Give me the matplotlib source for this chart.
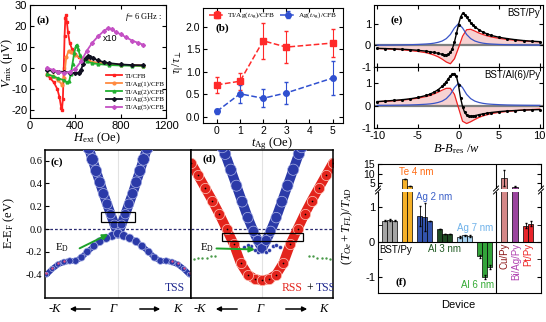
import numpy as np
import matplotlib
matplotlib.use("Agg")
import matplotlib.pyplot as plt
from matplotlib.lines import Line2D

# ---------------- data ----------------
# (a) V_mix vs H_ext
h_red = [150, 180, 210, 240, 260, 275, 282, 290, 298, 305, 312, 318, 325, 335, 350, 370, 400, 430, 470, 520, 600, 700, 800, 900, 1000]
v_red = [-3.5, -5, -7, -10, -14, -19, -20, -15, 0, 15, 24, 25, 22, 17, 12, 9, 6.5, 5, 4, 3, 2.2, 1.7, 1.4, 1.2, 1.0]
h_org = [150, 200, 250, 280, 300, 320, 340, 360, 400, 450, 500, 600, 800, 1000]
v_org = [-3, -4, -6, -8, -5, 5, 8, 7.5, 6, 4.5, 3.5, 2.3, 1.4, 1.0]
h_grn = [150, 200, 250, 300, 330, 345, 360, 375, 390, 405, 415, 425, 440, 460, 500, 550, 600, 700, 800, 900, 1000]
v_grn = [-3, -4, -5, -6, -7, -6.5, -3, 2, 7, 10.5, 11, 9, 6, 4, 3, 2.2, 1.8, 1.3, 1.1, 1.0, 0.9]
h_blk = [150, 200, 250, 300, 350, 400, 430, 450, 470, 490, 510, 530, 560, 600, 650, 700, 800, 900, 1000]
v_blk = [-1, -1.5, -1.8, -2, -2.3, -2.5, -2.3, -1, 2, 4.5, 5.5, 5.3, 4.5, 3.5, 2.7, 2.2, 1.6, 1.3, 1.2]
h_mag = [150, 200, 250, 300, 350, 400, 450, 500, 550, 600, 650, 690, 720, 760, 800, 850, 900, 950, 1000]
v_mag = [0, -1, -2, -2.5, -2, -0.5, 3, 8, 12, 15, 17.5, 19, 18.5, 17, 16, 14.5, 13, 12, 11]

# (b) ratio vs t_Ag
t_ag = [0, 1, 2, 3, 5]
r_red = [0.71, 0.79, 1.69, 1.55, 1.64]
e_red = [0.18, 0.19, 0.40, 0.36, 0.31]
r_blu = [0.12, 0.51, 0.41, 0.53, 0.86]
e_blu = [0.05, 0.20, 0.20, 0.25, 0.37]

# (c) TSS bands (right half, mirrored)
kc_up = [0.0, 0.05, 0.1, 0.15, 0.2, 0.25, 0.3, 0.35, 0.4]
ec_up = [-0.04, 0.04, 0.13, 0.22, 0.31, 0.41, 0.51, 0.61, 0.71]
kc_lo = [0.0, 0.08, 0.16, 0.25, 0.33, 0.42, 0.5, 0.58, 0.66, 0.74, 0.82, 0.9, 0.98]
ec_lo = [-0.04, -0.06, -0.08, -0.11, -0.15, -0.2, -0.25, -0.28, -0.28, -0.29, -0.31, -0.35, -0.4]

# (d) RSS + TSS bands
kd_blu = [0.0, 0.06, 0.12, 0.2, 0.28, 0.36, 0.44, 0.52, 0.56]
ed_blu = [-0.17, -0.1, -0.02, 0.1, 0.24, 0.38, 0.52, 0.66, 0.72]
kd_wing = [0.05, 0.1, 0.15, 0.2, 0.25]
ed_wing = [-0.2, -0.18, -0.15, -0.14, -0.16]
kd_red = [0.0, 0.1, 0.2, 0.3, 0.4, 0.5, 0.6, 0.7, 0.8, 0.9, 1.0]
ed_red = [-0.45, -0.44, -0.40, -0.30, -0.13, 0.0, 0.13, 0.25, 0.36, 0.47, 0.58]
kd_flat = [0.66, 0.72, 0.78, 0.84, 0.9, 0.96]
ed_flat = [-0.24, -0.24, -0.25, -0.25, -0.25, -0.26]

# (e) line shapes
xe = [-10, -9, -8, -7, -6, -5, -4, -3.5, -3, -2.5, -2, -1.5, -1, -0.5, 0, 0.5, 1, 1.5, 2, 2.5, 3, 3.5, 4, 5, 6, 7, 8, 9, 10]
sym = [0.01, 0.012, 0.015, 0.02, 0.027, 0.04, 0.06, 0.075, 0.1, 0.14, 0.2, 0.31, 0.5, 0.8, 1.0,
       0.8, 0.5, 0.31, 0.2, 0.14, 0.1, 0.075, 0.06, 0.04, 0.027, 0.02, 0.015, 0.012, 0.01]
asym_top = [-0.15, -0.16, -0.18, -0.2, -0.24, -0.28, -0.34, -0.39, -0.45, -0.53, -0.64, -0.77, -0.85, -0.62, -0.12,
            0.42, 0.72, 0.74, 0.66, 0.57, 0.5, 0.44, 0.39, 0.32, 0.27, 0.23, 0.2, 0.18, 0.16]
asym_bot = [0.17, 0.19, 0.21, 0.24, 0.28, 0.33, 0.4, 0.45, 0.52, 0.6, 0.69, 0.77, 0.77, 0.5, -0.1,
            -0.7, -0.8, -0.72, -0.62, -0.53, -0.46, -0.41, -0.36, -0.3, -0.26, -0.23, -0.2, -0.18, -0.16]
xb = [-10, -9, -8, -7, -6, -5, -4, -3.5, -3, -2.5, -2, -1.75, -1.5, -1.25, -1, -0.75, -0.5, -0.25, 0,
      0.25, 0.5, 0.75, 1, 1.25, 1.5, 1.75, 2, 2.5, 3, 3.5, 4, 5, 6, 7, 8, 9, 10]
meas_top = [-0.14, -0.15, -0.165, -0.18, -0.2, -0.23, -0.27, -0.3, -0.33, -0.37, -0.42, -0.44, -0.45, -0.42, -0.33,
            -0.15, 0.15, 0.55, 0.95, 1.3, 1.47, 1.42, 1.3, 1.17, 1.05, 0.95, 0.86, 0.72, 0.61, 0.53, 0.46,
            0.37, 0.31, 0.26, 0.22, 0.19, 0.17]
meas_bot = [0.18, 0.2, 0.23, 0.26, 0.3, 0.36, 0.45, 0.51, 0.6, 0.71, 0.86, 0.96, 1.07, 1.2, 1.32, 1.4, 1.43,
            1.3, 0.9, 0.35, -0.05, -0.3, -0.42, -0.47, -0.48, -0.47, -0.45, -0.41, -0.37, -0.34, -0.31,
            -0.27, -0.24, -0.22, -0.2, -0.19, -0.18]

# (f) torque ratios per device
grp_vals = [[0.62, 0.64, 0.62], [7.2, 3.6], [0.75, 0.72, 0.6], [0.38, 0.23, 0.23],
            [0.14, 0.19, 0.17], [-0.41, -1.0, -0.72]]
grp_errs = [[0.02, 0.02, 0.02], [0, 0], [0.3, 0.4, 0.0], [0, 0, 0], [0.02, 0.02, 0.02], [0.05, 0.06, 0.05]]
grp_cols = ['#a5a5a5', '#f6b127', '#3253ad', '#1d4a22', '#a9d3f2', '#33a43a']
ref_vals = [[7.7], [3.3], [0.47, 0.53]]
ref_errs = [[4.2], [0.15], [0.07, 0.07]]
ref_cols = ['#d48888', '#9b449e', '#e8242a']

# ---------------- layout ----------------
W, H = 546, 322
plt.rcParams['font.family'] = ['Liberation Sans', 'DejaVu Sans']
plt.rcParams['mathtext.fontset'] = 'custom'
plt.rcParams['mathtext.rm'] = 'Liberation Serif'
plt.rcParams['mathtext.it'] = 'Liberation Serif:italic'
plt.rcParams['mathtext.bf'] = 'Liberation Serif:bold'
plt.rcParams['axes.unicode_minus'] = False
plt.rcParams['xtick.direction'] = 'in'
plt.rcParams['ytick.direction'] = 'in'
plt.rcParams['axes.linewidth'] = 0.8
plt.rcParams['xtick.major.size'] = 3
plt.rcParams['ytick.major.size'] = 3
plt.rcParams['xtick.major.pad'] = 2.5
plt.rcParams['ytick.major.pad'] = 2
SERIF = ['Liberation Serif', 'DejaVu Serif']

fig = plt.figure(figsize=(W / 100, H / 100), dpi=100)


def box(l, t, r, b):
    return [l / W, 1 - b / H, (r - l) / W, (b - t) / H]


def ftxt(x, y, s, **kw):
    kw.setdefault('ha', 'center')
    kw.setdefault('va', 'center')
    return fig.text(x / W, 1 - y / H, s, **kw)


def farrow(x0, x1, y):
    fig.add_artist(matplotlib.patches.FancyArrowPatch(
        (x0 / W, 1 - y / H), (x1 / W, 1 - y / H), transform=fig.transFigure,
        arrowstyle='-|>', mutation_scale=7, lw=1.1, color='black'))


# ---------------- (a) ----------------
axa = fig.add_axes(box(30, 5, 166, 118))
axa.plot(h_red, v_red, '-s', color='#ff2020', ms=2, lw=1.3, label='TI/CFB')
axa.plot(h_org, v_org, '-o', color='#ff8a40', ms=2, lw=1.3, label='TI/Ag(1)/CFB')
axa.plot(h_grn, v_grn, '-^', color='#20b030', ms=2, lw=1.3, label='TI/Ag(2)/CFB')
axa.plot(h_blk, v_blk, '-D', color='#101020', ms=2, lw=1.3, label='TI/Ag(3)/CFB')
axa.plot(h_mag, v_mag, '-D', color='#c450c4', ms=2, lw=1.3, label='TI/Ag(5)/CFB')
axa.set_xlim(0, 1200)
axa.set_ylim(-24, 30)
axa.set_xticks([0, 400, 800, 1200])
axa.set_yticks([-20, -10, 0, 10, 20, 30])
axa.tick_params(labelsize=8, top=True, right=True)
axa.legend(loc='lower right', bbox_to_anchor=(1.02, 0.03), frameon=False,
           prop={'family': SERIF, 'size': 5}, handlelength=2.4, labelspacing=0.25,
           handletextpad=0.3, borderaxespad=0.2)
axa.text(0.97, 0.88, r'$f$= 6 GHz :', transform=axa.transAxes, ha='right', fontsize=6, family=SERIF)
axa.text(640, 13, 'x10', fontsize=6.5)
axa.text(0.05, 0.84, '(a)', transform=axa.transAxes, fontsize=8, family=SERIF, weight='bold')
ftxt(7, 63, r'$V_{\rm mix}$ ($\mathrm{\mu}$V)', rotation=90, fontsize=9, family=SERIF)
ftxt(97, 138, r'$H_{\rm ext}$ (Oe)', fontsize=9, family=SERIF)

# ---------------- (b) ----------------
axb = fig.add_axes(box(203, 8, 343, 123))
axb.errorbar(t_ag, r_red, yerr=e_red, fmt='--s', color='#ff2a2a', ms=4, lw=1.1,
             elinewidth=0.8, capsize=1.5, label=r'TI/Ag($t_{\rm Ag}$)/CFB')
axb.errorbar(t_ag, r_blu, yerr=e_blu, fmt='--o', color='#3050d0', ms=4, lw=1.1,
             elinewidth=0.8, capsize=1.5, label=r'Ag($t_{\rm Ag}$)/CFB')
axb.set_xlim(-0.6, 5.45)
axb.set_ylim(-0.14, 2.42)
axb.set_xticks(range(6))
axb.set_yticks([0, 0.5, 1.0, 1.5, 2.0])
axb.set_yticklabels(['0.0', '0.5', '1.0', '1.5', '2.0'])
axb.tick_params(labelsize=7.5, top=True, right=True)
axb.legend(loc='upper center', ncol=2, frameon=False, prop={'family': SERIF, 'size': 5.2},
           handlelength=2.2, columnspacing=0.6, handletextpad=0.3, borderaxespad=0.1,
           borderpad=0.2)
axb.text(0.09, 0.8, '(b)', transform=axb.transAxes, fontsize=8, family=SERIF, weight='bold')
ftxt(178, 62, r'$\tau_{||}/\tau_{\perp}$', rotation=90, fontsize=8.5, family=SERIF)
ftxt(272, 144, r'$t_{\rm Ag}$ (Oe)', fontsize=9, family=SERIF)

# ---------------- (c) and (d) ----------------
BLUE, BLUE_E = '#2b3aa8', '#aab2e6'
RED, RED_E = '#e3241c', '#ffc8bc'
axc = fig.add_axes(box(45, 150, 191, 298))
axd = fig.add_axes(box(191, 150, 333, 298))
for ax in (axc, axd):
    ax.set_xlim(-1, 1)
    ax.set_ylim(-0.605, 0.693)
    ax.axvline(0, color='#e2e2e2', lw=0.8, zorder=0)
    ax.axhline(0, color='#2a2a70', lw=0.9, ls=(0, (2.2, 1.6)), zorder=1)
    ax.set_xticks([])
    ax.tick_params(labelsize=7.5, right=False)
    for s in ax.spines.values():
        s.set_linewidth(1.1)

for sgn in (-1, 1):
    k_up = sgn * np.array(kc_up)
    axc.plot(k_up, ec_up, color=BLUE, lw=7, solid_capstyle='round', zorder=2)
    axc.scatter(k_up, ec_up, s=np.linspace(35, 75, len(kc_up)), c=BLUE, edgecolors=BLUE_E, lw=0.5, zorder=3)
    k_lo = sgn * np.array(kc_lo)
    axc.plot(k_lo, ec_lo, color=BLUE, lw=4, solid_capstyle='round', zorder=2)
    axc.scatter(k_lo, ec_lo, s=np.linspace(40, 12, len(kc_lo)), c=BLUE, edgecolors=BLUE_E, lw=0.5, zorder=3)
    axc.scatter(k_lo[-4:], np.array(ec_lo[-4:]) + 0.01, s=3, c='#e05080', lw=0, zorder=4)

    axd.plot(sgn * np.array(kd_red), ed_red, color=RED, lw=7, solid_capstyle='round', zorder=2)
    axd.scatter(sgn * np.array(kd_red), ed_red, s=55, c=RED, edgecolors=RED_E, lw=0.5, zorder=2)
    axd.scatter(sgn * np.array(kd_red), ed_red, s=1.5, c='black', lw=0, zorder=2)
    axd.plot(sgn * np.array(kd_blu), ed_blu, color=BLUE, lw=7, solid_capstyle='round', zorder=3)
    axd.scatter(sgn * np.array(kd_blu), ed_blu, s=np.linspace(50, 70, len(kd_blu)), c=BLUE,
                edgecolors=BLUE_E, lw=0.5, zorder=3)
    axd.scatter(sgn * np.array(kd_wing), ed_wing, s=8, c=BLUE, edgecolors='white', lw=0.3, zorder=3)
    axd.scatter(sgn * np.array(kd_flat), ed_flat, s=3, c='#4a9a4a', lw=0, zorder=3)

axc.set_yticks([-0.4, -0.2, 0.0, 0.2, 0.4, 0.6])
axc.set_yticklabels(['-0.4', '-0.2', '0.0', '0.2', '0.4', '0.6'], family=SERIF)
axd.set_yticks([])
axc.add_patch(plt.Rectangle((-0.23, 0.065), 0.46, 0.085, fill=False, ec='black', lw=0.9, zorder=5))
axd.add_patch(plt.Rectangle((-0.56, -0.105), 1.14, 0.07, fill=False, ec='black', lw=0.9, zorder=5))
axc.annotate('', xy=(-0.1, -0.035), xytext=(-0.56, -0.18),
             arrowprops=dict(arrowstyle='-|>', color='#1fa22a', lw=1.4, mutation_scale=8), zorder=6)
axd.annotate('', xy=(-0.06, -0.18), xytext=(-0.68, -0.17),
             arrowprops=dict(arrowstyle='-|>', color='#1fa22a', lw=1.4, mutation_scale=8), zorder=6)
axc.text(-0.77, -0.16, r'E$_{\rm D}$', fontsize=8, family=SERIF, ha='center', va='center')
axd.text(-0.77, -0.165, r'E$_{\rm D}$', fontsize=8, family=SERIF, ha='center', va='center')
axc.text(0.04, 0.9, '(c)', transform=axc.transAxes, fontsize=8, family=SERIF, weight='bold')
axd.text(0.08, 0.92, '(d)', transform=axd.transAxes, fontsize=8, family=SERIF, weight='bold')
axc.text(0.78, -0.52, 'TSS', color='#202a90', fontsize=8.5, family=SERIF, ha='center', va='center')
axd.text(0.43, -0.52, 'RSS', color='#e3241c', fontsize=8.5, family=SERIF, ha='center', va='center')
axd.text(0.62, -0.52, '+', color='black', fontsize=8.5, family=SERIF, ha='left', va='center')
axd.text(0.76, -0.52, 'TSS', color='#202a90', fontsize=8.5, family=SERIF, ha='left', va='center', clip_on=True)
ftxt(9, 223, r'E-E$_{\rm F}$ (eV)', rotation=90, fontsize=9, family=SERIF)

for x, s in [(55, '-K'), (113, 'Γ'), (177, 'K'), (200, '-K'), (260, 'Γ'), (323, 'K')]:
    ftxt(x, 309, s, fontsize=9, family=SERIF, style='italic')
farrow(93, 67, 309)
farrow(137, 163, 309)
farrow(240, 213, 309)
farrow(283, 310, 309)

# ---------------- (e) ----------------
axe1 = fig.add_axes(box(374, 5, 543, 67))
axe2 = fig.add_axes(box(374, 67, 543, 128))
for ax, asym, meas, ylim in ((axe1, asym_top, meas_top, (-1, 1.86)), (axe2, asym_bot, meas_bot, (-1, 1.72))):
    ax.axhline(0, color='#808080', lw=1.6, zorder=1)
    ax.fill_between(xe, asym, 0, color='#f7d2d2', lw=0, zorder=0)
    ax.plot(xe, asym, color='#ee2222', lw=0.9, zorder=2)
    ax.plot(xe, sym, color='#3a55c8', lw=0.9, zorder=2)
    ax.plot(xb, meas, '-', color='black', lw=1.0, marker='.', ms=2.5, zorder=3)
    ax.set_xlim(-10.4, 10.4)
    ax.set_ylim(*ylim)
    ax.set_yticks([-1, 0, 1])
    ax.set_xticks([-10, -5, 0, 5, 10])
    ax.tick_params(labelsize=8, top=True, right=True)
axe1.tick_params(labelbottom=False)
axe1.text(0.985, 0.87, 'BST/Py', transform=axe1.transAxes, ha='right', va='center', fontsize=7)
axe2.text(0.985, 0.87, 'BST/Al(6)/Py', transform=axe2.transAxes, ha='right', va='center', fontsize=7)
axe1.text(0.1, 0.72, '(e)', transform=axe1.transAxes, fontsize=8, family=SERIF, weight='bold')
ftxt(456, 149, r'$B$-$B_{\rm res}$ /$w$', fontsize=9, family=SERIF)

# ---------------- (f) ----------------
axf1 = fig.add_axes(box(378, 164, 541, 190))
axf2 = fig.add_axes(box(378, 190, 541, 293))
x = 0.8
for vals, errs, col in zip(grp_vals, grp_errs, grp_cols):
    pos = x + 0.5 + np.arange(len(vals))
    for ax in (axf1, axf2):
        ax.bar(pos, vals, width=1.0, color=col, edgecolor='black', lw=0.5,
               yerr=errs, error_kw=dict(elinewidth=0.6, capsize=1, ecolor='black'))
    x += len(vals) + 1
divider = x - 0.2
x = divider + 1.0
for vals, errs, col in zip(ref_vals, ref_errs, ref_cols):
    pos = x + 0.5 + np.arange(len(vals))
    for ax in (axf1, axf2):
        ax.bar(pos, vals, width=1.0 if len(vals) > 1 else 1.2, color=col, edgecolor='black', lw=0.5,
               yerr=errs, error_kw=dict(elinewidth=0.6, capsize=1, ecolor='black'))
    x += len(vals) + 1.2

for ax in (axf1, axf2):
    ax.set_xlim(0, 32.6)
    ax.axvline(divider, color='black', lw=0.8)
    ax.set_xticks([])
    ax.tick_params(labelsize=8, right=True)
axf1.set_ylim(1.5, 15)
axf1.set_yticks([5, 10, 15])
axf1.tick_params(labelsize=7.5, pad=2)
axf1.spines['bottom'].set_visible(False)
axf2.set_ylim(-1.47, 1.5)
axf2.set_yticks([-1, 0, 1])
axf2.set_yticks([-0.5, 0.5], minor=True)
axf2.tick_params(which='minor', direction='in', length=3, right=True)
axf2.spines['top'].set_visible(False)
axf2.axhline(0, color='black', lw=0.8)

# axis break
yb = 1 - 190 / H
fig.add_artist(Line2D([378 / W, 541 / W], [yb, yb], color='white', lw=2.2, transform=fig.transFigure))
for xp in (378, 378 + divider * 163 / 32.6, 541):
    for dy in (-1.5, 1.5):
        fig.add_artist(Line2D([(xp - 2.5) / W, (xp + 2.5) / W], [yb + (dy - 2.5) / H, yb + (dy + 2.5) / H],
                              color='black', lw=0.7, transform=fig.transFigure))

ftxt(416, 172, 'Te 4 nm', color='#ff6a10', fontsize=7)
ftxt(434, 197, 'Ag 2 nm', color='#3a5fc8', fontsize=7)
ftxt(475, 228, 'Ag 7 nm', color='#6fb2ea', fontsize=7)
ftxt(396, 250, 'BST/Py', color='black', fontsize=7)
ftxt(444, 249, 'Al 3 nm', color='#1f5a22', fontsize=7)
ftxt(478, 285, 'Al 6 nm', color='#33aa33', fontsize=7)
ftxt(401, 282, '(f)', fontsize=8, family=SERIF, weight='bold')
ftxt(505, 243, 'Cu/Py', color='#8b1515', fontsize=7, rotation=90, va='top')
ftxt(516, 243, 'Bi/Ag/Py', color='#b040b0', fontsize=7, rotation=90, va='top')
ftxt(528, 243, 'Pt/Py', color='#ee2222', fontsize=7, rotation=90, va='top')
ftxt(458, 305, 'Device', fontsize=8)
ftxt(347, 226, r'$(T_{Oe}+T_{FL})/T_{AD}$', rotation=90, fontsize=9, family=SERIF)

fig.savefig('out.png', dpi=100)
